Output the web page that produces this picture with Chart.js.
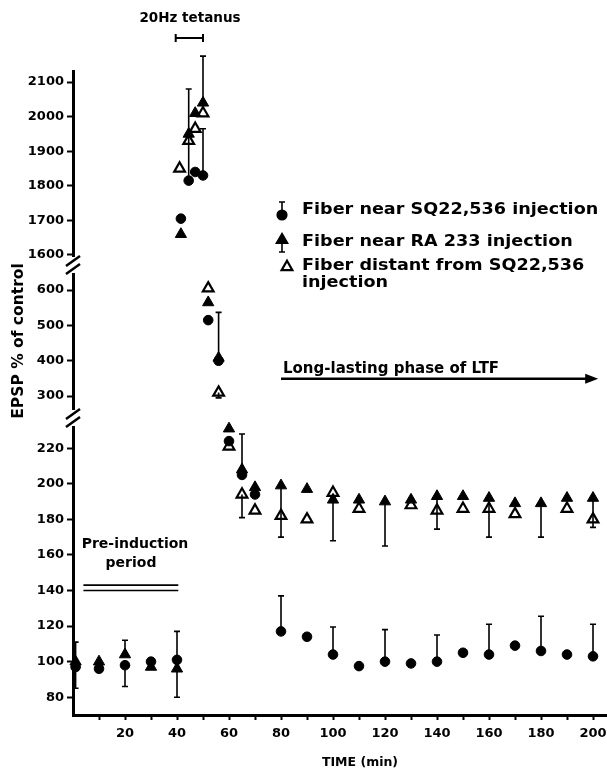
<!DOCTYPE html>
<html>
<head>
<meta charset="utf-8">
<script src="https://cdn.jsdelivr.net/npm/chart.js@4.4.0/dist/chart.umd.min.js"></script>
<style>
html, body { margin: 0; padding: 0; background: #fff; }
</style>
</head>
<body>
<canvas id="mycanvas1" width="607" height="772"></canvas>
<script>
// time (min) and EPSP (% of control)
var circleTime = [1, 10, 20, 30, 40, 41.5, 44.5, 47, 50, 52, 56, 60, 65, 70, 80, 90, 100, 110, 120, 130, 140, 150, 160, 170, 180, 190, 200];
var circleEpsp = [97, 96, 98, 100, 101, 1705, 1815, 1840, 1830, 515, 400, 224, 205, 194, 117, 114, 104, 97.5, 100, 99, 100, 105, 104, 109, 106, 104, 103];

var filledTime = [1, 10, 20, 30, 40, 41.5, 44.5, 47, 50, 52, 56, 60, 65, 70, 80, 90, 100, 110, 120, 130, 140, 150, 160, 170, 180, 190, 200];
var filledEpsp = [100, 100, 104, 97, 96, 1660, 1950, 2010, 2040, 565, 408, 231, 208, 198, 199, 197, 191, 191, 190, 191, 193, 193, 192, 189, 189, 192, 192];

var openTime = [41, 44.5, 47, 50, 52, 56, 60, 65, 70, 80, 90, 100, 110, 130, 140, 150, 160, 170, 190, 200];
var openEpsp = [1850, 1930, 1965, 2010, 605, 310, 221, 194, 185, 182, 180, 195, 186, 188, 185, 186, 186, 183, 186, 180];

// error bars: time and where the bar ends
var circleErrTime = [1, 20, 40, 44.5, 50, 56, 65, 80, 100, 120, 140, 160, 180, 200];
var circleErrEnd  = [111, 86, 117, 2080, 1965, 537, 228, 137, 119.5, 118, 115, 121, 125.5, 121];
var filledErrTime = [1, 20, 40, 50, 80, 100, 120, 140, 160, 180, 200];
var filledErrEnd  = [85, 112, 80, 2175, 170, 168, 165, 174.5, 170, 170, 175.5];
var openErrTime = [56, 65];
var openErrEnd  = [295, 181];

var xTicks = [10, 20, 30, 40, 50, 60, 70, 80, 90, 100, 110, 120, 130, 140, 150, 160, 170, 180, 190, 200];
var topTicks = [1600, 1700, 1800, 1900, 2000, 2100];
var midTicks = [300, 400, 500, 600];
var botTicks = [80, 100, 120, 140, 160, 180, 200, 220];

var FONT = '"DejaVu Sans", sans-serif';

function axisFor(v) {
  if (v >= 1000) return 'yTop';
  if (v >= 237) return 'yMid';
  return 'yBot';
}

var circleStyle = { pointStyle: 'circle', pointRadius: 4.8, pointBackgroundColor: '#000', pointBorderColor: '#000', pointBorderWidth: 1 };
var filledStyle = { pointStyle: 'triangle', pointRadius: 6.5, pointBackgroundColor: '#000', pointBorderColor: '#000', pointBorderWidth: 1 };
var openStyle   = { pointStyle: 'triangle', pointRadius: 6.2, pointBackgroundColor: '#fff', pointBorderColor: '#000', pointBorderWidth: 2.2 };

var datasets = [];
function addSeries(label, times, vals, style) {
  ['yTop', 'yMid', 'yBot'].forEach(function(ax) {
    var pts = [];
    for (var i = 0; i < times.length; i++) {
      if (axisFor(vals[i]) === ax) pts.push({ x: times[i], y: vals[i] });
    }
    var ds = { label: label, data: pts, yAxisID: ax, showLine: false, clip: false };
    for (var k in style) ds[k] = style[k];
    datasets.push(ds);
  });
}
addSeries('Fiber near SQ22,536 injection', circleTime, circleEpsp, circleStyle);
addSeries('Fiber near RA 233 injection', filledTime, filledEpsp, filledStyle);
addSeries('Fiber distant from SQ22,536 injection', openTime, openEpsp, openStyle);

function yAxis(min, max, weight, ticks) {
  return {
    type: 'linear', position: 'left', stack: 'epsp', stackWeight: weight,
    min: min, max: max,
    afterBuildTicks: function(s) { s.ticks = ticks.map(function(v) { return { value: v }; }); },
    afterFit: function(s) { s.width = 73; s.paddingTop = 0; s.paddingBottom = 0; },
    border: { display: true, width: 3, color: '#000' },
    grid: { drawOnChartArea: false, drawTicks: true, tickLength: 6, tickWidth: 2, color: '#000' },
    ticks: {
      color: '#000', padding: 3, font: { family: FONT, size: 13, weight: 'bold' },
      callback: function(v) { return String(v); }
    }
  };
}

function drawErr(ctx, chart, times, vals, errTime, errEnd) {
  var xs = chart.scales.x;
  for (var i = 0; i < errTime.length; i++) {
    var j = times.indexOf(errTime[i]);
    if (j < 0) continue;
    var ys = chart.scales[axisFor(vals[j])];
    var px = xs.getPixelForValue(errTime[i]);
    var p0 = ys.getPixelForValue(vals[j]);
    var p1 = ys.getPixelForValue(errEnd[i]);
    ctx.beginPath();
    ctx.moveTo(px, p0); ctx.lineTo(px, p1);
    ctx.moveTo(px - 3, p1); ctx.lineTo(px + 3, p1);
    ctx.stroke();
  }
}

// wide text, like the heavy extended face of the original
function wideText(ctx, txt, x, y, sx) {
  ctx.save();
  ctx.translate(x, y);
  ctx.scale(sx, 1);
  ctx.fillText(txt, 0, 0);
  ctx.restore();
}

var extras = {
  id: 'extras',
  afterDatasetsDraw: function(chart) {
    var ctx = chart.ctx;
    ctx.save();
    ctx.strokeStyle = '#000';
    ctx.lineWidth = 1.6;
    drawErr(ctx, chart, circleTime, circleEpsp, circleErrTime, circleErrEnd);
    drawErr(ctx, chart, filledTime, filledEpsp, filledErrTime, filledErrEnd);
    drawErr(ctx, chart, openTime, openEpsp, openErrTime, openErrEnd);
    ctx.restore();
  },
  afterDraw: function(chart) {
    var ctx = chart.ctx;
    var xs = chart.scales.x, yB = chart.scales.yBot, yM = chart.scales.yMid;
    ctx.save();
    ctx.fillStyle = '#000';
    ctx.strokeStyle = '#000';

    // axis breaks
    [chart.scales.yTop.bottom, yM.bottom].forEach(function(yc) {
      ctx.fillStyle = '#fff';
      ctx.fillRect(67, yc - 8, 14, 16);
      ctx.fillStyle = '#000';
      ctx.lineWidth = 2.5;
      [-4, 4].forEach(function(d) {
        ctx.beginPath();
        ctx.moveTo(66, yc + d + 5);
        ctx.lineTo(80, yc + d - 5);
        ctx.stroke();
      });
    });

    // y title
    ctx.save();
    ctx.translate(19, 341);
    ctx.rotate(-Math.PI / 2);
    ctx.font = 'bold 15.5px ' + FONT;
    ctx.textAlign = 'center';
    ctx.textBaseline = 'middle';
    ctx.fillText('EPSP % of control', 0, 0);
    ctx.restore();

    // x title
    ctx.font = 'bold 12.5px ' + FONT;
    ctx.textAlign = 'center';
    ctx.textBaseline = 'middle';
    ctx.fillText('TIME (min)', 360, 763);

    // tetanus bracket
    ctx.font = 'bold 13.5px ' + FONT;
    ctx.fillText('20Hz tetanus', 190, 18);
    var bx0 = xs.getPixelForValue(39.5), bx1 = xs.getPixelForValue(50);
    ctx.lineWidth = 2;
    ctx.beginPath();
    ctx.moveTo(bx0, 38); ctx.lineTo(bx1, 38);
    ctx.moveTo(bx0, 34); ctx.lineTo(bx0, 42);
    ctx.moveTo(bx1, 34); ctx.lineTo(bx1, 42);
    ctx.stroke();

    // pre-induction period
    ctx.font = 'bold 14px ' + FONT;
    ctx.fillText('Pre-induction', 135, 544);
    ctx.fillText('period', 131, 563);
    ctx.lineWidth = 1.6;
    [143, 140].forEach(function(v) {
      var py = yB.getPixelForValue(v);
      ctx.beginPath();
      ctx.moveTo(xs.getPixelForValue(4), py);
      ctx.lineTo(xs.getPixelForValue(40.5), py);
      ctx.stroke();
    });

    // long-lasting phase arrow
    ctx.textAlign = 'left';
    ctx.font = 'bold 15px ' + FONT;
    ctx.fillText('Long-lasting phase of LTF', 283, 369);
    var ay = yM.getPixelForValue(349);
    var ax0 = xs.getPixelForValue(80), ax1 = xs.getPixelForValue(202);
    ctx.lineWidth = 2.5;
    ctx.beginPath();
    ctx.moveTo(ax0, ay); ctx.lineTo(ax1 - 10, ay);
    ctx.stroke();
    ctx.beginPath();
    ctx.moveTo(ax1, ay); ctx.lineTo(ax1 - 13, ay - 5); ctx.lineTo(ax1 - 13, ay + 5);
    ctx.closePath();
    ctx.fill();

    // legend
    ctx.lineWidth = 1.6;
    ctx.beginPath();
    ctx.moveTo(282, 215); ctx.lineTo(282, 202);
    ctx.moveTo(279, 202); ctx.lineTo(285, 202);
    ctx.moveTo(282, 240); ctx.lineTo(282, 252);
    ctx.moveTo(279, 252); ctx.lineTo(285, 252);
    ctx.stroke();
    Chart.helpers.drawPoint(ctx, { pointStyle: 'circle', radius: 4.8, borderWidth: 1 }, 282, 215);
    Chart.helpers.drawPoint(ctx, { pointStyle: 'triangle', radius: 6.5, borderWidth: 1 }, 282, 240);
    ctx.fillStyle = '#fff';
    ctx.lineWidth = 2.2;
    Chart.helpers.drawPoint(ctx, { pointStyle: 'triangle', radius: 6.2, borderWidth: 2.2 }, 287, 267);
    ctx.fillStyle = '#000';
    ctx.font = 'bold 16px ' + FONT;
    wideText(ctx, 'Fiber near SQ22,536 injection', 302, 210, 1.1);
    wideText(ctx, 'Fiber near RA 233 injection', 302, 242, 1.1);
    wideText(ctx, 'Fiber distant from SQ22,536', 302, 266, 1.1);
    wideText(ctx, 'injection', 302, 283, 1.1);
    ctx.restore();
  }
};

var ctx = document.getElementById('mycanvas1').getContext('2d');
var chart = new Chart(ctx, {
  type: 'scatter',
  data: { datasets: datasets },
  options: {
    responsive: false,
    animation: false,
    devicePixelRatio: 1,
    layout: { autoPadding: false, padding: { top: 71, right: 1, left: 0, bottom: 0 } },
    plugins: { legend: { display: false }, tooltip: { enabled: false } },
    scales: {
      x: {
        type: 'linear', position: 'bottom', min: 0, max: 205,
        afterBuildTicks: function(s) { s.ticks = xTicks.map(function(v) { return { value: v }; }); },
        afterFit: function(s) { s.height = 57; s.paddingLeft = 0; s.paddingRight = 0; },
        border: { display: true, width: 3, color: '#000' },
        grid: { drawOnChartArea: false, drawTicks: true, tickLength: 5, tickWidth: 2, color: '#000' },
        ticks: {
          color: '#000', padding: 6, maxRotation: 0, autoSkip: false,
          font: { family: FONT, size: 13, weight: 'bold' },
          callback: function(v) { return v % 20 === 0 ? String(v) : ''; }
        }
      },
      yBot: yAxis(70, 237, 297, botTicks),
      yMid: yAxis(238, 671, 153, midTicks),
      yTop: yAxis(1571, 2132, 194, topTicks)
    }
  },
  plugins: [extras]
});
</script>
</body>
</html>
